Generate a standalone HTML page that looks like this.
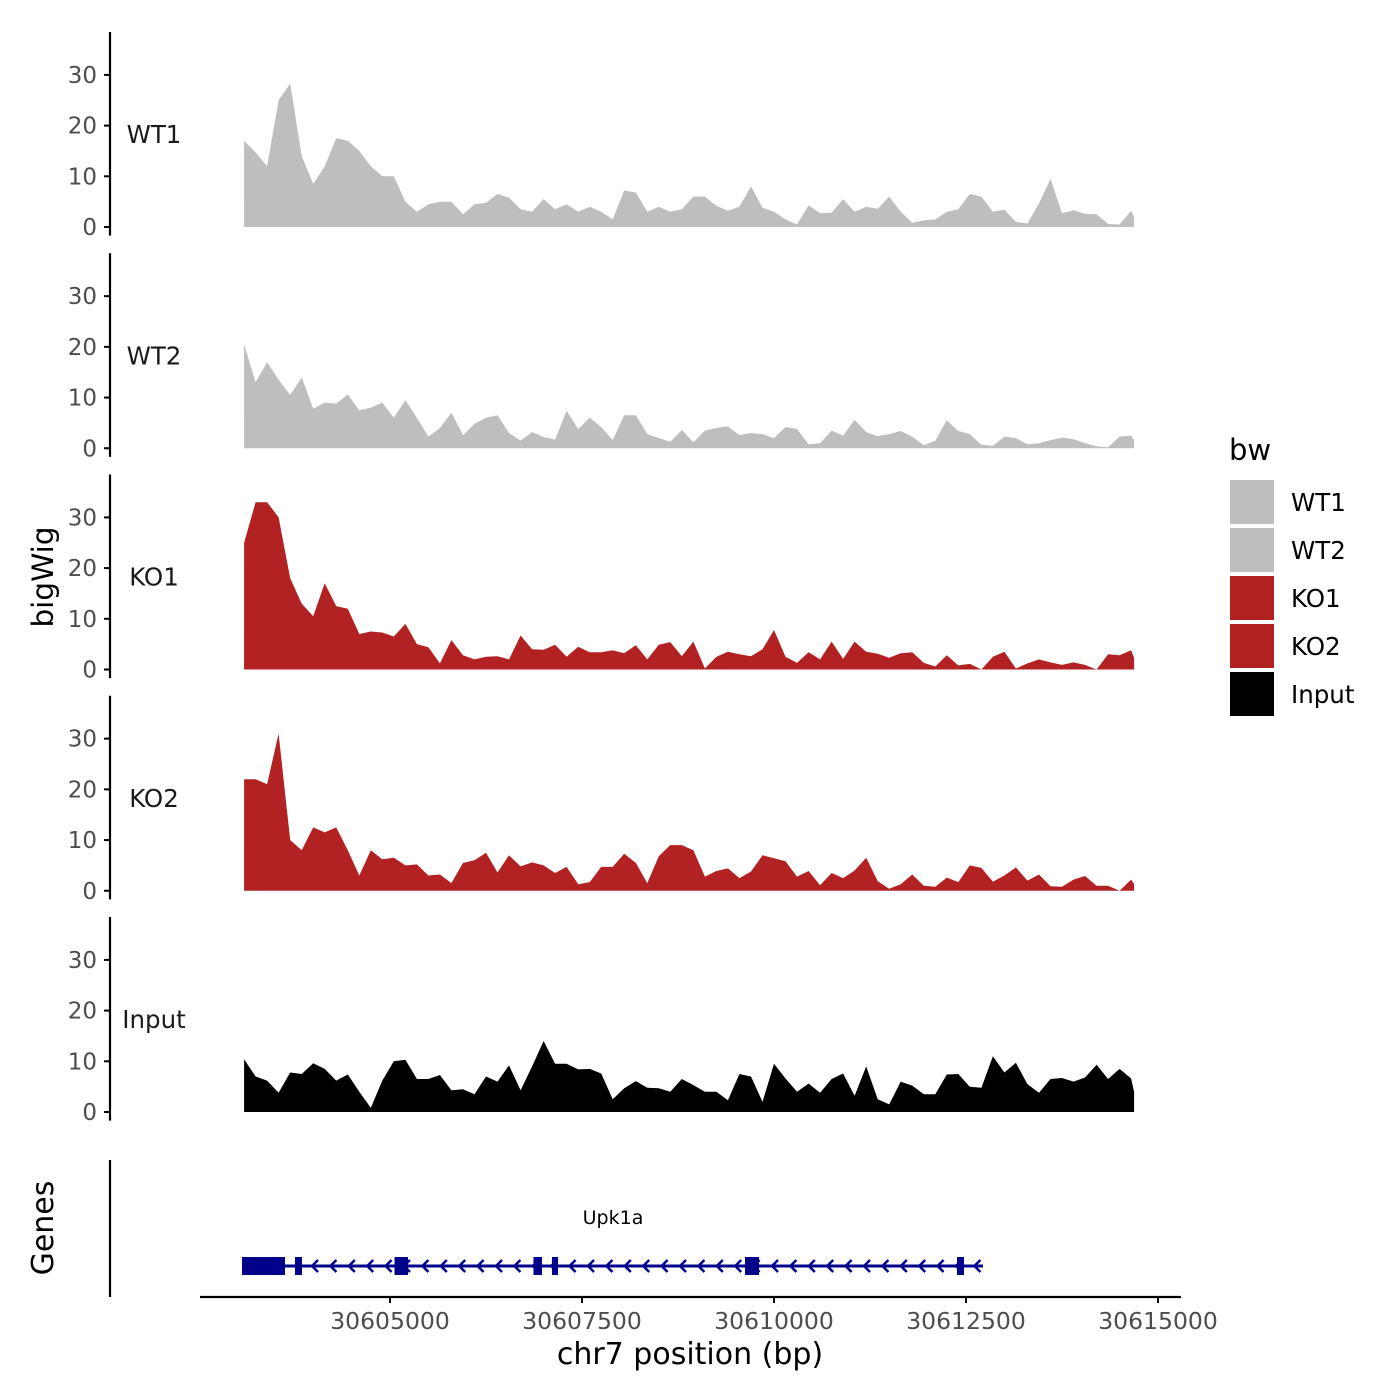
<!DOCTYPE html>
<html><head><meta charset="utf-8"><style>
html,body{margin:0;padding:0;background:#fff}
svg{display:block;font-family:"DejaVu Sans","Liberation Sans",sans-serif}
</style></head><body>
<svg id="chart" width="1400" height="1400" viewBox="0 0 1400 1400" xmlns="http://www.w3.org/2000/svg"></svg>
<script>
// ---- data ----
const trackNames = ["WT1","WT2","KO1","KO2","Input"];
const trackColors = ["#bebebe","#bebebe","#b22222","#b22222","#000000"];
const gridStart = 30603100;
const gridStep = 150;
const wt1 = [17,14.7,12,25,28.3,14,8.5,12,17.5,17,15,12,10,10,5,3,4.5,5,5,2.5,4.5,4.8,6.5,5.8,3.5,3,5.5,3.5,4.5,3,4,3,1.5,7.2,6.8,3,4,3,3.5,6,6,4.2,3.2,4,8,3.8,3,1.5,0.5,4.3,2.7,2.8,5.5,3,4,3.6,6,3,0.8,1.3,1.5,3,3.5,6.5,6,3,3.4,1,0.7,4.7,9.5,2.7,3.3,2.6,2.5,0.6,0.5,3.2];
const wt2 = [20.5,13,17,13.5,10.5,14,7.8,9,8.8,10.6,7.5,8,9,6,9.5,6,2.3,4,7,2.6,4.8,6,6.5,3,1.5,3.2,2.2,1.7,7.4,3.8,6,4.2,1.6,6.5,6.5,2.8,2,1.3,3.6,1.2,3.5,4,4.3,2.6,3,2.8,2,4.2,3.8,0.8,1,3.5,2.5,5.6,3.2,2.4,2.8,3.4,2.3,0.6,1.5,5.5,3.4,2.8,0.7,0.5,2.3,2,0.8,1,1.6,2.1,1.8,1,0.4,0.2,2.3,2.5];
const ko1 = [25,33,33,30,18,13,10.5,17,12.5,12,7,7.5,7.3,6.5,9,5,4.4,1.2,5.8,2.8,2,2.5,2.6,2,6.7,4,3.9,4.9,2.5,4.5,3.4,3.4,3.8,3.2,4.8,2,4.9,5.4,2.6,5.5,0.2,2.5,3.5,3,2.6,4,7.8,2.5,1.3,3.4,2,5.5,2.1,5.5,3.5,3.1,2.3,3.2,3.4,1.3,0.6,2.8,0.8,1.1,0,2.5,3.5,0.2,1.2,2,1.4,0.9,1.4,0.9,0,3,2.8,3.8];
const ko2 = [22,22,21,31,10,8,12.5,11.5,12.5,8,3,8,6.2,6.5,5,5.2,3,3.2,1.5,5.5,6,7.5,3.6,7,4.8,5.6,5,3.5,4.7,1.3,1.7,4.7,4.7,7.3,5.5,1.5,6.8,9,9,8,2.8,3.9,4.4,2.5,3.8,7,6.4,5.8,2.8,3.9,1.1,3.5,2.5,4,6.5,1.9,0.4,1.3,3.2,1,0.8,2.6,1.7,5,4.5,1.8,3,4.6,2,3.2,0.9,0.8,2.2,2.9,1,1,0,2.2];
const input = [10.4,7,6.2,3.8,7.8,7.5,9.6,8.5,6.2,7.4,4,0.8,6.2,10,10.3,6.5,6.5,7.3,4.3,4.5,3.5,7,6,9.2,4.3,9,14,9.5,9.5,8.4,8.5,7.6,2.5,4.7,6.1,4.8,4.7,4,6.5,5.3,4,4,2.3,7.5,7,2,9.5,6.6,4,5.6,3.8,6.5,7.6,3.2,9,2.5,1.5,6,5.2,3.5,3.5,7.4,7.5,5,4.8,11,7.8,9.7,5.5,3.8,6.5,6.7,6,6.8,9.3,6.5,8.5,6.6];
const seriesValues = [wt1, wt2, ko1, ko2, input];
const yTicks = [0,10,20,30];
const xTicks = [30605000,30607500,30610000,30612500,30615000];
const geneName = "Upk1a";
const geneStart = 30603073, geneEnd = 30612721;
const exonStarts = [30603073,30603763,30605059,30606868,30607109,30609622,30612383];
const exonEnds   = [30603633,30603854,30605234,30606979,30607188,30609805,30612474];

// ---- scales ----
const NS = "http://www.w3.org/2000/svg";
const svg = document.getElementById("chart");
const xScale = bp => 390 + (bp - 30605000) * 0.0768;
const baselines = [227, 448.25, 669.5, 890.75, 1112];
const yUnit = 5.07;
function el(tag, attrs, parent){const e=document.createElementNS(NS,tag);for(const k in attrs)e.setAttribute(k,attrs[k]);(parent||svg).appendChild(e);return e;}

// ---- tracks ----
seriesValues.forEach((vals, i) => {
  const b = baselines[i];
  const g = el("g", {});
  
  
  const ax = el("line", {x1:110,x2:110,y1:b+8.6,y2:b-195,stroke:"#000","stroke-width":2.2}, g);
  
  
  yTicks.forEach(t => {
    const y = b - t*yUnit;
    const tk = el("line", {x1:104,x2:110,y1:y,y2:y,stroke:"#000","stroke-width":2}, g);
    
    
    const tl = el("text", {x:97,y:y+8,"text-anchor":"end","font-size":23,fill:"#4d4d4d"}, g);
    tl.textContent = t;
    
    
  });
  let d = "M" + xScale(gridStart) + "," + b;
  vals.forEach((v, k) => { d += " L" + xScale(gridStart + k*gridStep).toFixed(1) + "," + (b - v*yUnit).toFixed(1); });
  const lastX = xScale(gridStart + (vals.length-1)*gridStep) + 3;
  d += " L" + lastX.toFixed(1) + "," + (b - vals[vals.length-1]*yUnit*0.6).toFixed(1) + " L" + lastX.toFixed(1) + "," + b + " Z";
  const area = el("path", {d:d, fill:trackColors[i]}, g);
  
  
  const lab = el("text", {x:154,y:b-84,"text-anchor":"middle","font-size":24.5,fill:"#1a1a1a"}, g);
  lab.textContent = trackNames[i];
  
  
});

// y title
const yt = el("text", {x:0,y:0,transform:"translate(53,577) rotate(-90)","text-anchor":"middle","font-size":29.5,fill:"#000"});
yt.textContent = "bigWig";



// ---- gene track ----
const gg = el("g", {});


const gax = el("line", {x1:110,x2:110,y1:1160,y2:1297,stroke:"#000","stroke-width":2.2}, gg);


const gt = el("text", {x:0,y:0,transform:"translate(53,1228) rotate(-90)","text-anchor":"middle","font-size":30,fill:"#000"}, gg);
gt.textContent = "Genes";


const gline = el("line", {x1:xScale(geneStart),x2:xScale(geneEnd),y1:1266,y2:1266,stroke:"#00008b","stroke-width":3}, gg);


for (let x = xScale(geneStart) + 72; x < xScale(geneEnd) - 4; x += 18.4) {
  const ch = el("polyline", {points:(x+4)+",1260 "+(x-2)+",1266 "+(x+4)+",1272",fill:"none",stroke:"#00008b","stroke-width":2.5}, gg);
  
  
}
exonStarts.forEach((s, k) => {
  const r = el("rect", {x:xScale(s),y:1257,width:xScale(exonEnds[k])-xScale(s),height:18,fill:"#00008b"}, gg);
  
  
});
const gn = el("text", {x:613,y:1224,"text-anchor":"middle","font-size":19,fill:"#000"}, gg);
gn.textContent = geneName;



// ---- x axis ----
const xa = el("line", {x1:200,x2:1181,y1:1297,y2:1297,stroke:"#000","stroke-width":2.2});


xTicks.forEach(t => {
  const x = xScale(t);
  const tk = el("line", {x1:x,x2:x,y1:1297,y2:1303,stroke:"#000","stroke-width":2});
  
  
  const tl = el("text", {x:x,y:1329,"text-anchor":"middle","font-size":23.5,fill:"#4d4d4d"});
  tl.textContent = t;
  
  
});
const xt = el("text", {x:690,y:1364,"text-anchor":"middle","font-size":30,fill:"#000"});
xt.textContent = "chr7 position (bp)";



// ---- legend ----
const lg = el("g", {});


const lt = el("text", {x:1229,y:460,"font-size":29,fill:"#000"}, lg);
lt.textContent = "bw";


trackNames.forEach((n, i) => {
  const y = 480 + i*48;
  const r = el("rect", {x:1230,y:y,width:44,height:44,fill:trackColors[i]}, lg);
  
  
  const t = el("text", {x:1291,y:y+31,"font-size":24.5,fill:"#000"}, lg);
  t.textContent = n;
  
  
});
</script>
</body></html>
